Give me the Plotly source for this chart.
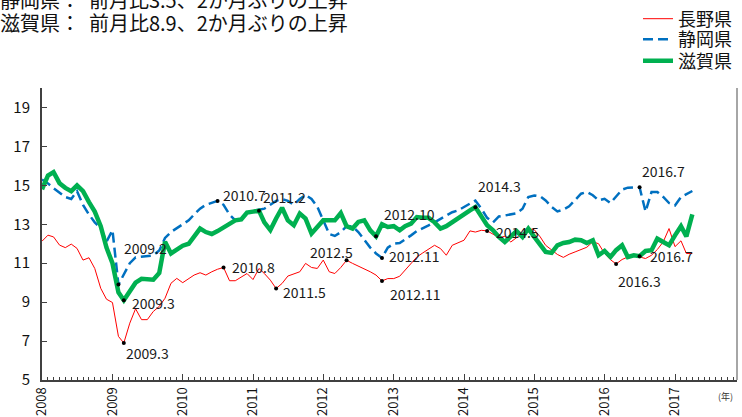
import pandas as pd
import plotly.graph_objects as go

# Monthly values, January 2008 onward
nagano = [12.13, 12.44, 12.35, 11.93, 11.8, 11.98, 11.76, 11.16, 11.28, 10.73,
          9.71, 9.15, 8.98, 7.24, 6.9, 7.92, 8.66, 8.1, 8.1, 8.52,
          8.78, 9.2, 9.97, 10.22, 10.0, 10.22, 10.39, 10.51, 10.39, 10.56,
          10.69, 10.78, 10.1, 10.1, 10.27, 10.47, 10.16, 10.73, 10.47, 10.13,
          9.7, 9.96, 10.34, 10.44, 10.56, 10.99, 10.78, 10.73, 11.16, 10.56,
          10.47, 10.78, 11.15, 10.99, 10.85, 10.73, 10.56, 10.39, 10.09, 10.21,
          10.21, 10.33, 10.64, 10.98, 11.32, 11.53, 11.7, 11.92, 11.75, 11.41,
          11.92, 12.04, 12.18, 12.66, 12.6, 12.69, 12.66, 12.49, 12.31, 12.38,
          12.09, 12.31, 12.55, 12.77, 12.72, 12.35, 11.92, 11.7, 11.45, 11.3,
          11.46, 11.58, 11.7, 11.82, 12.1, 12.0, 11.5, 11.18, 10.96, 11.19,
          11.32, 11.37, 11.32, 11.24, 11.41, 11.7, 12.1, 12.78, 11.85, 12.15,
          11.5, 11.5]

shizuoka = [15.3, 15.1, 14.85, 14.6, 14.4, 14.3, 14.7, 14.0, 13.5, 13.1,
            12.8, 12.1, 12.7, 9.9, 10.4, 11.0, 11.3, 11.33, 11.35, 11.4,
            11.65, 12.3, 12.6, 12.8, 13.0, 13.2, 13.5, 13.8, 14.0, 14.1,
            14.2, 14.0, 13.5, 13.2, 13.3, 13.6, 13.7, 13.75, 13.8, 14.0,
            14.2, 14.3, 14.2, 14.0, 14.3, 14.5, 14.3, 13.9, 13.2, 12.5,
            12.4, 12.6, 12.9, 12.9, 12.6, 12.2, 11.8, 11.5, 11.27, 11.8,
            12.0, 12.04, 12.21, 12.43, 12.65, 12.78, 12.94, 13.1, 13.28, 13.45,
            13.62, 13.71, 13.88, 14.05, 14.22, 13.8, 13.33, 13.1, 13.4, 13.45,
            13.5, 13.57, 13.8, 14.4, 14.48, 14.43, 14.22, 13.89, 13.66, 13.75,
            13.92, 14.23, 14.57, 14.66, 14.49, 14.23, 14.31, 14.09, 14.4, 14.78,
            14.88, 14.91, 14.9, 13.65, 14.66, 14.66, 14.4, 14.09, 13.97, 14.4,
            14.54, 14.71]

shiga = [14.8, 15.5, 15.68, 15.11, 14.87, 14.7, 15.0, 14.7, 14.14, 13.65,
         12.9, 11.8, 11.0, 9.5, 9.1, 9.6, 10.0, 10.2, 10.2, 10.15,
         10.5, 12.1, 11.5, 11.7, 11.9, 12.0, 12.4, 12.78, 12.6, 12.5,
         12.65, 12.85, 13.05, 13.2, 13.25, 13.6, 13.65, 13.7, 13.1, 12.7,
         13.3, 13.85, 13.2, 12.95, 13.55, 13.29, 12.52, 12.86, 13.2, 13.2,
         13.2, 13.58, 12.9, 12.78, 13.12, 13.2, 12.69, 12.38, 13.0, 12.86,
         12.9, 12.69, 12.9, 13.03, 13.37, 13.33, 13.33, 13.1, 12.78, 12.9,
         13.12, 13.33, 13.54, 13.71, 13.88, 13.4, 12.95, 12.69, 12.35, 12.09,
         12.38, 12.65, 12.35, 12.78, 12.35, 11.92, 11.58, 11.53, 11.92, 12.04,
         12.09, 12.21, 12.18, 12.04, 12.18, 11.41, 11.63, 11.32, 11.67, 11.92,
         11.32, 11.41, 11.36, 11.63, 11.67, 12.26, 12.09, 11.92, 12.43, 12.9,
         12.38, 13.51]

months = pd.date_range("2008-01-01", periods=len(shiga), freq="MS")

series_names = ["長野県", "静岡県", "滋賀県"]
y_ticks = [5, 7, 9, 11, 13, 15, 17, 19]

# Highlighted months: (series, month index, label, x offset px, y offset px, anchor)
highlights = [
    ("静岡県", 13, "2009.2", 4, 37, "left"),
    ("滋賀県", 14, "2009.3", 6, -3, "left"),
    ("長野県", 14, "2009.3", 0, -10, "left"),
    ("静岡県", 30, "2010.7", 3, 6, "left"),
    ("滋賀県", 37, "2011.2", 2, 14, "left"),
    ("長野県", 31, "2010.8", 6, 0, "left"),
    ("長野県", 40, "2011.5", 5, -3, "left"),
    ("長野県", 52, "2012.5", -15, 8, "center"),
    ("滋賀県", 57, "2012.10", 6, 22, "left"),
    ("静岡県", 58, "2012.11", 5, 2, "left"),
    ("長野県", 58, "2012.11", 6, -13, "left"),
    ("滋賀県", 74, "2014.3", 1, 21, "left"),
    ("長野県", 76, "2014.5", 7, -1, "left"),
    ("静岡県", 102, "2016.7", 0, 16, "left"),
    ("長野県", 98, "2016.3", 0, -17, "left"),
    ("滋賀県", 102, "2016.7", 8, 0, "left"),
]

values = {"長野県": nagano, "静岡県": shizuoka, "滋賀県": shiga}
styles = {
    "長野県": dict(color="#FF0000", width=1, dash="solid"),
    "静岡県": dict(color="#0070C0", width=2.5, dash="10px,5px"),
    "滋賀県": dict(color="#00B050", width=4.5, dash="solid"),
}

FONT = "Noto Sans CJK JP"
W, H = 742, 417
L, R, T, B = 42, 5, 88, 37

fig = go.Figure()
legend_ids = ["legend", "legend2", "legend3"]
for name, lid in zip(series_names, legend_ids):
    fig.add_trace(go.Scatter(
        x=months, y=values[name], mode="lines", name=name,
        line=styles[name], legend=lid, hoverinfo="skip",
    ))

hx = [months[m] for _, m, *_ in highlights]
hy = [values[s][m] for s, m, *_ in highlights]
fig.add_trace(go.Scatter(
    x=hx, y=hy, mode="markers", showlegend=False, hoverinfo="skip",
    marker=dict(color="black", size=4),
))

annotations = []
for (s, m, label, dx, dy, anchor) in highlights:
    annotations.append(dict(
        x=months[m], y=values[s][m], xref="x", yref="y", text=label,
        showarrow=False, xanchor=anchor, yanchor="middle",
        xshift=dx, yshift=dy,
        font=dict(family=FONT, size=14, color="#1a1a1a"),
    ))

pw, ph = W - L - R, H - T - B
def px_x(p):
    return (p - L) / pw
def px_y(p):
    return (H - B - p) / ph

titles = ["静岡県：  前月比3.5、2か月ぶりの上昇", "滋賀県：  前月比8.9、2か月ぶりの上昇"]
for i, t in enumerate(titles):
    annotations.append(dict(
        x=px_x(-2), y=px_y(0 + 22.5 * i), xref="paper", yref="paper",
        text=t, showarrow=False, xanchor="left", yanchor="middle",
        font=dict(family=FONT, size=20, color="#111111"),
    ))
annotations.append(dict(
    x=px_x(725), y=px_y(397), xref="paper", yref="paper", text="(年)",
    showarrow=False, xanchor="center", yanchor="middle",
    font=dict(family=FONT, size=9, color="#333333"),
))

legend_rows = [19, 39.5, 61]
legend_layout = {}
for lid, row in zip(legend_ids, legend_rows):
    legend_layout[lid] = dict(
        xref="container", yref="container", x=638 / W, y=1 - row / H,
        xanchor="left", yanchor="middle", bgcolor="rgba(0,0,0,0)",
        borderwidth=0, font=dict(family=FONT, size=18, color="#111111"),
        tracegroupgap=0,
    )

fig.update_layout(
    width=W, height=H,
    margin=dict(l=L, r=R, t=T, b=B, autoexpand=False),
    paper_bgcolor="white", plot_bgcolor="white",
    annotations=annotations,
    showlegend=True,
    hovermode=False,
    shapes=[dict(type="line", xref="paper", yref="paper", x0=1, x1=1, y0=0, y1=1,
                 line=dict(color="#A6A6A6", width=2))],
    **legend_layout,
)

fig.update_xaxes(
    type="date", range=["2008-01-01", "2017-11-19"],
    tickmode="linear", tick0="2008-01-01", dtick="M12", tickformat="%Y",
    tickangle=-90, ticks="inside", ticklen=6, tickwidth=1, tickcolor="#404040",
    minor=dict(dtick="M1", tick0="2008-01-01", ticks="inside", ticklen=3,
               tickwidth=1, tickcolor="#404040"),
    showline=True, linecolor="#404040", linewidth=2,
    showgrid=False, zeroline=False,
    tickfont=dict(family=FONT, size=13, color="#111111"),
)
fig.update_yaxes(
    range=[5, 20], tickmode="array", tickvals=y_ticks,
    ticks="inside", ticklen=5, tickwidth=1, tickcolor="#404040",
    ticklabelstandoff=7,
    showline=True, linecolor="#404040", linewidth=2,
    showgrid=False, zeroline=False,
    tickfont=dict(family=FONT, size=15, color="#111111"),
)

fig.write_html("out.html")
